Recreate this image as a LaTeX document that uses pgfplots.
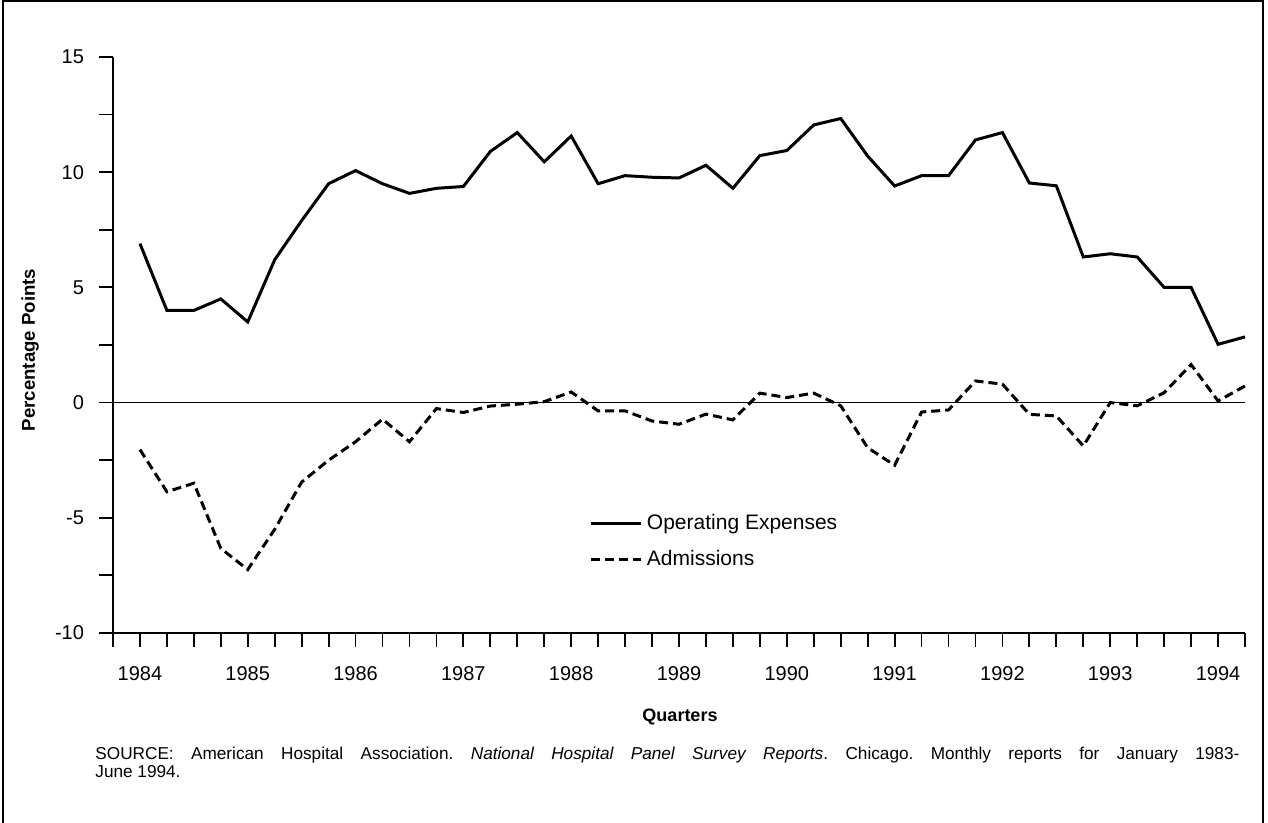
\documentclass[border=0pt]{standalone}
\usepackage{fontspec}
\setmainfont{Liberation Sans}
\usepackage{pgfplots}
\pgfplotsset{compat=1.18}
\usepackage{pgfplotstable}

\pgfplotstableread{
x       ope     adm
1984.00 6.90   -2.04
1984.25 4.00   -3.87
1984.50 4.00   -3.50
1984.75 4.50   -6.33
1985.00 3.50   -7.25
1985.25 6.20   -5.50
1985.50 7.90   -3.45
1985.75 9.50   -2.50
1986.00 10.07  -1.70
1986.25 9.50   -0.72
1986.50 9.08   -1.70
1986.75 9.30   -0.26
1987.00 9.38   -0.43
1987.25 10.90  -0.15
1987.50 11.72  -0.07
1987.75 10.45   0.04
1988.00 11.57   0.46
1988.25 9.50   -0.36
1988.50 9.85   -0.36
1988.75 9.78   -0.80
1989.00 9.75   -0.94
1989.25 10.30  -0.50
1989.50 9.30   -0.75
1989.75 10.72   0.41
1990.00 10.94   0.22
1990.25 12.05   0.41
1990.50 12.33  -0.14
1990.75 10.70  -1.96
1991.00 9.40   -2.72
1991.25 9.85   -0.41
1991.50 9.85   -0.32
1991.75 11.40   0.94
1992.00 11.72   0.80
1992.25 9.53   -0.51
1992.50 9.41   -0.58
1992.75 6.32   -1.88
1993.00 6.46    0.00
1993.25 6.32   -0.14
1993.50 5.00    0.43
1993.75 5.00    1.65
1994.00 2.53    0.07
1994.25 2.85    0.72
}\datatable

\begin{document}
\frenchspacing
\begin{tikzpicture}[x=1pt,y=1pt]
\useasboundingbox (-56.5,-95) rectangle (577.5,316.5);
\draw[line width=1.3pt] (-55,-96) -- (-55,316) -- (575,316) -- (575,-96);
\begin{axis}[
  at={(0,0)}, anchor=south west,
  scale only axis,
  width=566pt, height=288pt,
  xmin=1983.75, xmax=1994.25,
  ymin=-10, ymax=15,
  axis lines=left,
  axis line style={line width=1pt, -},
  xtick={1984,1985,...,1994},
  minor xtick={1983.75,1984.25,1984.5,...,1994.25},
  ytick={-10,-5,0,5,10,15},
  minor ytick={-7.5,-2.5,2.5,7.5,12.5},
  tick align=outside,
  major tick length=7pt,
  minor tick length=7pt,
  every tick/.style={black, line width=0.9pt},
  xticklabel style={font=\fontsize{10}{12}\selectfont, yshift=-6pt},
  yticklabel style={font=\fontsize{10}{12}\selectfont, xshift=-4pt},
  /pgf/number format/assume math mode=true,
  /pgf/number format/set thousands separator={},
  clip=false,
  legend style={at={(0.421,0.214)}, anchor=north west, draw=none, fill=none,
    font=\fontsize{10.5}{12}\selectfont, row sep=5pt, inner sep=0pt},
  legend cell align=left,
  legend image code/.code={\draw[#1] (0pt,0pt) -- (25pt,0pt);},
]
\draw[line width=0.9pt] (axis cs:1983.75,0) -- (axis cs:1994.25,0);
\addplot[black, line width=1.5pt, line join=miter] table[x=x, y=ope] {\datatable};
\addlegendentry{Operating Expenses}
\addplot[black, line width=1.5pt, dash pattern=on 4.5pt off 2.5pt] table[x=x, y=adm] {\datatable};
\addlegendentry{Admissions}
\end{axis}
\node[rotate=90, font=\bfseries\fontsize{9.3}{11}\selectfont] at (-41.5,141.5) {Percentage Points};
\node[font=\bfseries\fontsize{9}{11}\selectfont] at (283.5,-42) {Quarters};
\node[anchor=north west, inner sep=0pt, text width=572pt, align=justify,
  font=\fontsize{8.6}{7.4}\selectfont] at (-9,-57)
  {SOURCE: American Hospital Association. \textit{National Hospital Panel Survey Reports}. Chicago. Monthly reports for January 1983-\linebreak June 1994.};
\end{tikzpicture}
\end{document}
